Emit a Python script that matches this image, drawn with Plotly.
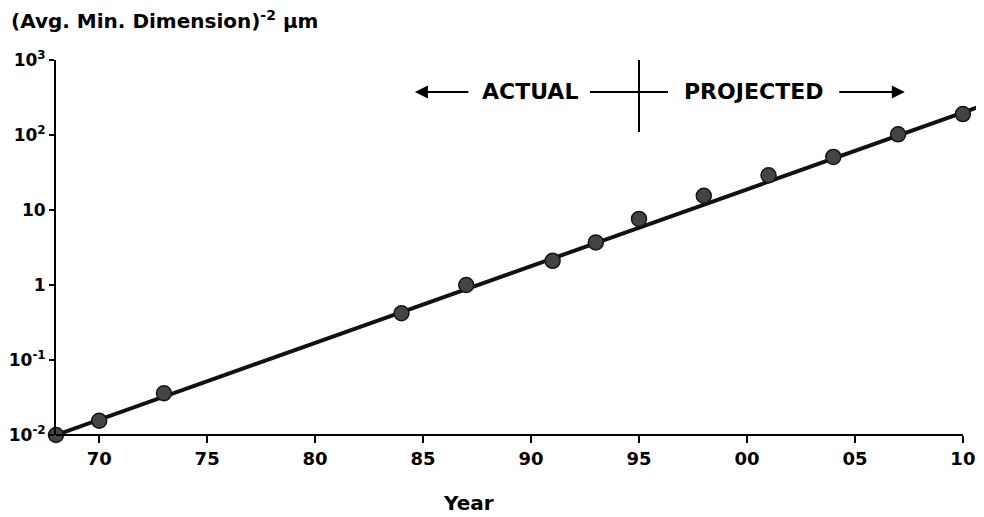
import plotly.graph_objects as go

# ---- data ----
years = [1968, 1970, 1973, 1984, 1987, 1991, 1993, 1995, 1998, 2001, 2004, 2007, 2010]
values = [0.01, 0.0155, 0.036, 0.42, 1.0, 2.1, 3.7, 7.6, 15.5, 29, 51, 102, 190]

trend_years = [1968, 2010.7]
trend_values = [0.01, 235]

x_tick_vals = [1970, 1975, 1980, 1985, 1990, 1995, 2000, 2005, 2010]
x_tick_text = ["70", "75", "80", "85", "90", "95", "00", "05", "10"]

y_tick_vals = [0.01, 0.1, 1, 10, 100, 1000]
y_tick_text = ["10<sup>-2</sup>", "10<sup>-1</sup>", "1", "10", "10<sup>2</sup>", "10<sup>3</sup>"]

divider_year = 1995
FONT = "DejaVu Sans"

fig = go.Figure()

fig.add_trace(go.Scatter(
    x=trend_years, y=trend_values, mode="lines",
    line=dict(color="#111111", width=4),
    hoverinfo="skip", showlegend=False,
))
fig.add_trace(go.Scatter(
    x=years, y=values, mode="markers",
    marker=dict(size=15, color="#444444", line=dict(color="#151515", width=1.5)),
    cliponaxis=False, showlegend=False,
))

fig.update_xaxes(
    range=[1968, 2010.7], showline=False, showgrid=False, zeroline=False,
    automargin=False,
    ticks="outside", ticklen=7, tickwidth=2, tickcolor="black",
    tickvals=x_tick_vals, ticktext=x_tick_text,
    tickfont=dict(family=FONT, size=18, color="black", weight="bold"),
)
fig.update_yaxes(
    type="log", range=[-2, 3], showline=True, linewidth=2, linecolor="black",
    showgrid=False, zeroline=False, automargin=False,
    ticks="outside", ticklen=5, tickwidth=2, tickcolor="black",
    tickvals=y_tick_vals, ticktext=y_tick_text,
    tickfont=dict(family=FONT, size=17, color="black", weight="bold"),
)

shapes = [
    # x axis line (ends at the last tick)
    dict(type="line", xref="x", yref="paper", x0=1968, x1=2010, y0=0, y1=0,
         line=dict(color="black", width=2)),
    # actual / projected divider
    dict(type="line", xref="x", yref="paper", x0=divider_year, x1=divider_year,
         y0=0.808, y1=1.0, line=dict(color="black", width=2)),
    dict(type="line", xref="x", yref="paper", x0=1992.73, x1=1996.34,
         y0=0.9147, y1=0.9147, line=dict(color="black", width=2)),
]

annotations = [
    dict(text="<b>(Avg. Min. Dimension)<sup>-2</sup> μm</b>", xref="paper", yref="paper",
         x=-0.051, y=1.107, xanchor="left", yanchor="middle", showarrow=False,
         font=dict(family=FONT, size=20, color="black")),
    dict(text="<b>Year</b>", xref="x", yref="paper", x=1987.1, y=-0.181,
         xanchor="center", yanchor="middle", showarrow=False,
         font=dict(family=FONT, size=20, color="black")),
    dict(text="<b>ACTUAL</b>", xref="x", yref="paper", x=1989.95, y=0.9147,
         xanchor="center", yanchor="middle", showarrow=False,
         font=dict(family=FONT, size=22, color="black")),
    dict(text="<b>PROJECTED</b>", xref="x", yref="paper", x=2000.28, y=0.9147,
         xanchor="center", yanchor="middle", showarrow=False,
         font=dict(family=FONT, size=22, color="black")),
    dict(text="", xref="x", yref="paper", x=1984.62, y=0.9147, ax=55, ay=0,
         showarrow=True, arrowhead=2, arrowsize=1.3, arrowwidth=2, arrowcolor="black"),
    dict(text="", xref="x", yref="paper", x=2007.31, y=0.9147, ax=-67, ay=0,
         showarrow=True, arrowhead=2, arrowsize=1.3, arrowwidth=2, arrowcolor="black"),
]

# The page body has an 8px default margin, so the figure is sized and
# offset to land on the same pixels as the reference.
fig.update_layout(
    width=976, height=509,
    margin=dict(l=48, r=6, t=52, b=82),
    paper_bgcolor="white", plot_bgcolor="white",
    shapes=shapes, annotations=annotations,
    showlegend=False,
)

fig.write_html("out.html")
